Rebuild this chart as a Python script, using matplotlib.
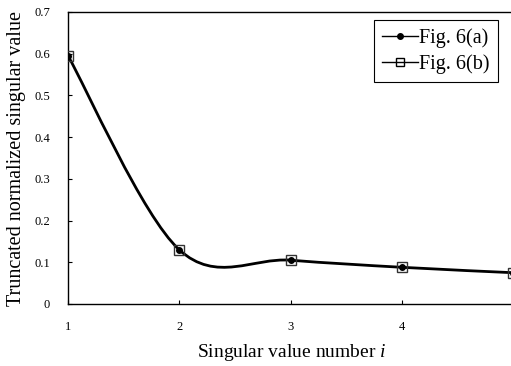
import numpy as np
import matplotlib
matplotlib.use("Agg")
import matplotlib.pyplot as plt
from matplotlib.path import Path
from matplotlib.patches import PathPatch

# %% data
sv_number = [1, 2, 3, 4, 5]
fig6a = [0.595, 0.130, 0.105, 0.088, 0.075]
fig6b = [0.595, 0.130, 0.105, 0.088, 0.075]


def smooth_path(x, y):
    """Excel-style smoothed line as cubic Bezier segments."""
    x = np.asarray(x, float)
    y = np.asarray(y, float)
    px = np.concatenate([[x[0]], x, [x[-1]]])
    py = np.concatenate([[y[0]], y, [y[-1]]])
    verts = [(x[0], y[0])]
    codes = [Path.MOVETO]
    for i in range(1, len(x)):
        c1 = (px[i] + (px[i + 1] - px[i - 1]) / 6, py[i] + (py[i + 1] - py[i - 1]) / 6)
        c2 = (px[i + 1] - (px[i + 2] - px[i]) / 6, py[i + 1] - (py[i + 2] - py[i]) / 6)
        verts += [c1, c2, (px[i + 1], py[i + 1])]
        codes += [Path.CURVE4] * 3
    return Path(verts, codes)


# %% plot
plt.rcParams["font.family"] = "Liberation Serif"
plt.rcParams["mathtext.fontset"] = "custom"
plt.rcParams["mathtext.it"] = "Liberation Serif:italic"
fig = plt.figure(figsize=(5.11, 3.66), dpi=100)
ax = fig.add_axes([68 / 511, 1 - 304 / 366, (513 - 68) / 511, (304 - 12) / 366])

ax.add_patch(PathPatch(smooth_path(sv_number, fig6a), facecolor="none", edgecolor="black", lw=2.0, zorder=2))
ax.plot(sv_number, fig6b, ls="none", marker="s", ms=7, mfc="none", mec="#333333", mew=1.0, zorder=3)
ax.plot(sv_number, fig6a, ls="none", marker="o", ms=4, color="black", zorder=4)

# legend handles
ax.plot([], [], color="black", lw=1, marker="o", ms=4, label="Fig. 6(a)")
ax.plot([], [], color="black", lw=1, marker="s", ms=6, mfc="none", label="Fig. 6(b)")
leg = ax.legend(loc="upper right", bbox_to_anchor=((498 - 68) / 445, (292 - 8) / 292),
                fancybox=False, edgecolor="black", framealpha=1, fontsize=14.5,
                handlelength=1.8, handletextpad=0.05, borderpad=0.4, labelspacing=0.32,
                borderaxespad=0)
leg.get_frame().set_linewidth(0.8)

ax.set_xlim(1, 5)
ax.set_ylim(0, 0.7)
ax.set_xticks(sv_number)
ax.set_yticks(np.arange(0, 0.71, 0.1))
ax.set_yticklabels(["0", "0.1", "0.2", "0.3", "0.4", "0.5", "0.6", "0.7"])
ax.tick_params(direction="in", length=3, labelsize=9)
ax.tick_params(axis="x", pad=12)
ax.tick_params(axis="y", pad=13)
for s in ax.spines.values():
    s.set_linewidth(1.0)

ax.set_xlabel("Singular value number $\\mathit{i}$", fontsize=14)
ax.set_ylabel("Truncated normalized singular value", fontsize=14.5)
ax.xaxis.set_label_coords((292 - 68) / 445, -(342 - 304) / 292)
ax.yaxis.set_label_coords(-(68 - 26) / 445, 0.5)

fig.savefig("out.png", dpi=100)
